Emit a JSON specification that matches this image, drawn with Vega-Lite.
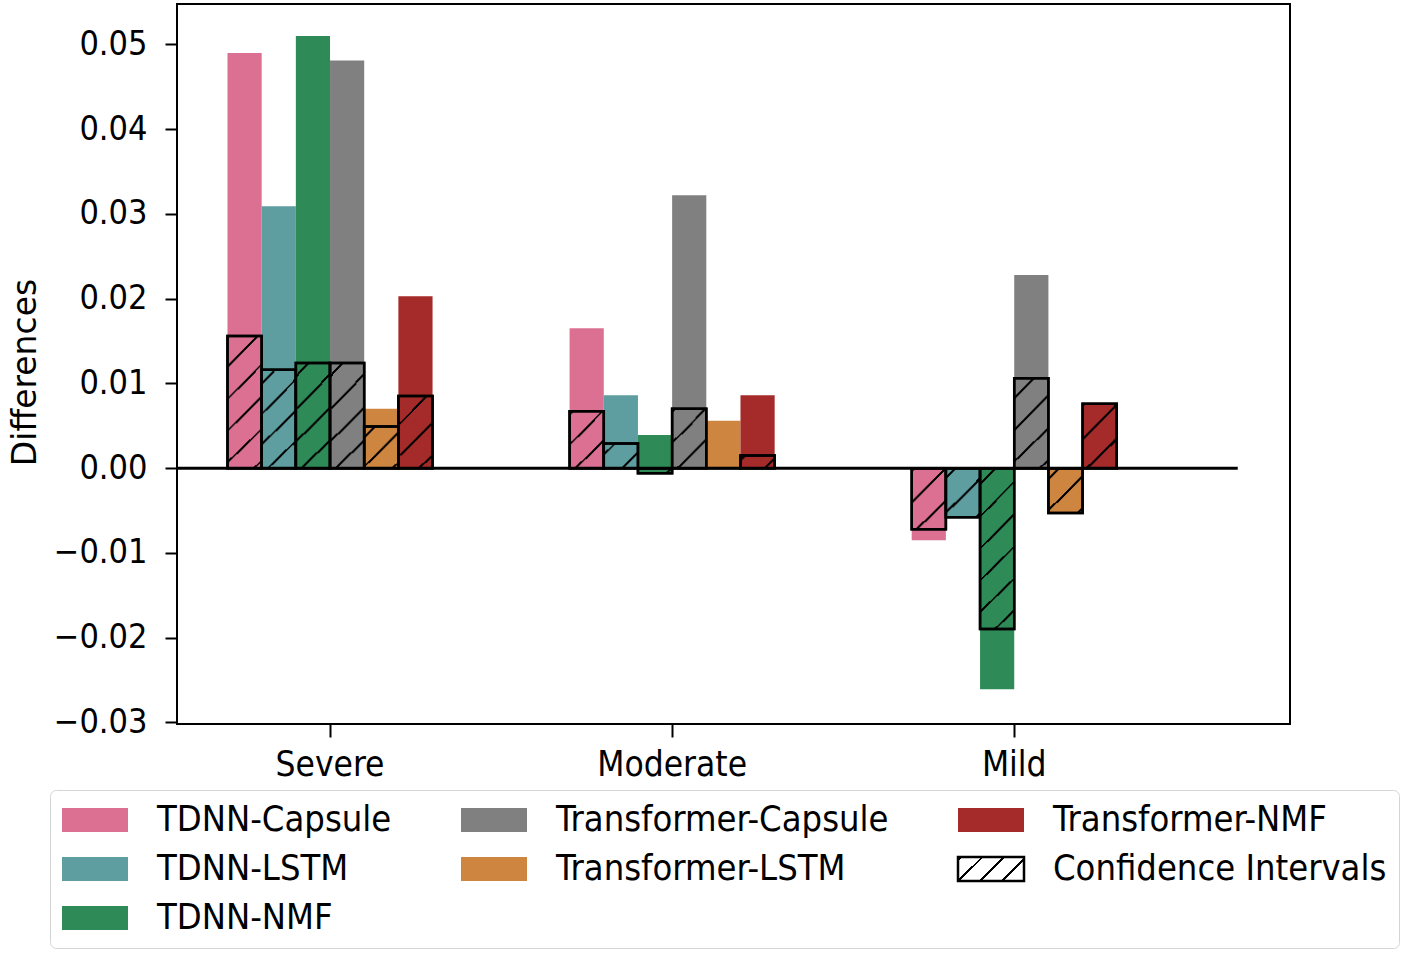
{
  "$schema": "https://vega.github.io/schema/vega-lite/v6.json",
  "width": 1113,
  "height": 720,
  "autosize": {"type": "none"},
  "padding": {"left": 177, "top": 4, "right": 128, "bottom": 232},
  "background": "white",
  "config": {
    "view": {"stroke": "black", "strokeWidth": 2},
    "font": "DejaVu Sans Condensed",
    "axis": {"grid": false}
  },
  "data": {
    "values": [
      {"severity": "Severe", "model": "TDNN-Capsule", "diff": 0.0490, "ci": 0.0156},
      {"severity": "Severe", "model": "TDNN-LSTM", "diff": 0.0309, "ci": 0.0116},
      {"severity": "Severe", "model": "TDNN-NMF", "diff": 0.0510, "ci": 0.0124},
      {"severity": "Severe", "model": "Transformer-Capsule", "diff": 0.0481, "ci": 0.0124},
      {"severity": "Severe", "model": "Transformer-LSTM", "diff": 0.0070, "ci": 0.0049},
      {"severity": "Severe", "model": "Transformer-NMF", "diff": 0.0203, "ci": 0.0085},
      {"severity": "Moderate", "model": "TDNN-Capsule", "diff": 0.0165, "ci": 0.0067},
      {"severity": "Moderate", "model": "TDNN-LSTM", "diff": 0.0086, "ci": 0.0029},
      {"severity": "Moderate", "model": "TDNN-NMF", "diff": 0.0039, "ci": -0.0006},
      {"severity": "Moderate", "model": "Transformer-Capsule", "diff": 0.0322, "ci": 0.0070},
      {"severity": "Moderate", "model": "Transformer-LSTM", "diff": 0.0056, "ci": 0},
      {"severity": "Moderate", "model": "Transformer-NMF", "diff": 0.0086, "ci": 0.0015},
      {"severity": "Mild", "model": "TDNN-Capsule", "diff": -0.0085, "ci": -0.0072},
      {"severity": "Mild", "model": "TDNN-LSTM", "diff": -0.0056, "ci": -0.0058},
      {"severity": "Mild", "model": "TDNN-NMF", "diff": -0.0261, "ci": -0.0190},
      {"severity": "Mild", "model": "Transformer-Capsule", "diff": 0.0228, "ci": 0.0106},
      {"severity": "Mild", "model": "Transformer-LSTM", "diff": -0.0045, "ci": -0.0053},
      {"severity": "Mild", "model": "Transformer-NMF", "diff": 0.0072, "ci": 0.0076}
    ]
  },
  "encoding": {
    "x": {
      "field": "severity",
      "type": "nominal",
      "title": null,
      "sort": ["Severe", "Moderate", "Mild"],
      "scale": {"paddingInner": 0.4006, "paddingOuter": 0.327, "align": 0.2257},
      "axis": {
        "title": null,
        "labelAngle": 0,
        "domain": false,
        "tickSize": 13,
        "tickWidth": 2,
        "tickColor": "black",
        "labelFont": "DejaVu Sans Condensed",
        "labelFontSize": 35,
        "labelColor": "black",
        "labelPadding": 10
      }
    }
  },
  "layer": [
    {
      "mark": {"type": "bar"},
      "encoding": {
        "xOffset": {"field": "model", "type": "nominal", "scale": {"domain": ["TDNN-Capsule", "TDNN-LSTM", "TDNN-NMF", "Transformer-Capsule", "Transformer-LSTM", "Transformer-NMF"], "paddingInner": 0, "paddingOuter": 0}},
        "y": {
          "field": "diff",
          "type": "quantitative",
          "title": "Differences",
          "scale": {"domain": [-0.0302, 0.05478], "nice": false, "zero": false},
          "axis": {
            "title": "Differences",
            "values": [-0.03, -0.02, -0.01, 0, 0.01, 0.02, 0.03, 0.04, 0.05],
            "labelExpr": "replace(format(datum.value, '.2f'), '-', '−')",
            "domain": false,
            "tickSize": 12,
            "tickWidth": 2,
            "tickColor": "black",
            "labelFont": "DejaVu Sans Condensed",
            "labelFontSize": 34,
            "labelColor": "black",
            "labelPadding": 18,
            "titleFont": "DejaVu Sans",
            "titleFontSize": 33,
            "titleFontWeight": "normal",
            "titleColor": "black",
            "titleX": -152,
            "titleY": 368,
            "titleAngle": 270,
            "titleAlign": "center",
            "titleBaseline": "middle"
          }
        },
        "color": {
          "field": "model",
          "type": "nominal",
          "scale": {
            "domain": ["TDNN-Capsule", "Transformer-Capsule", "Transformer-NMF", "TDNN-LSTM", "Transformer-LSTM", "Confidence Intervals", "TDNN-NMF"],
            "range": ["#DB7093", "#808080", "#A52A2A", "#5F9EA0", "#CD853F",
              {"expr": "{gradient: 'radial', x1: -10, y1: -10, r1: 0, x2: -10, y2: -10, r2: 15.556349, stops: [{offset: 0, color: '#ffffff'}, {offset: 0.924455, color: '#ffffff'}, {offset: 0.924455, color: '#000000'}, {offset: 0.926455, color: '#000000'}, {offset: 0.926455, color: '#ffffff'}, {offset: 0.939455, color: '#ffffff'}, {offset: 0.939455, color: '#000000'}, {offset: 0.941455, color: '#000000'}, {offset: 0.941455, color: '#ffffff'}, {offset: 0.954455, color: '#ffffff'}, {offset: 0.954455, color: '#000000'}, {offset: 0.956455, color: '#000000'}, {offset: 0.956455, color: '#ffffff'}, {offset: 0.969455, color: '#ffffff'}, {offset: 0.969455, color: '#000000'}, {offset: 0.971455, color: '#000000'}, {offset: 0.971455, color: '#ffffff'}, {offset: 0.984455, color: '#ffffff'}, {offset: 0.984455, color: '#000000'}, {offset: 0.986455, color: '#000000'}, {offset: 0.986455, color: '#ffffff'}, {offset: 1, color: '#ffffff'}]}"},
              "#2E8B57"]
          },
          "legend": {
            "orient": "none",
            "legendX": -127,
            "legendY": 786,
            "title": null,
            "direction": "horizontal",
            "columns": 3,
            "gridAlign": "each",
            "values": ["TDNN-Capsule", "Transformer-Capsule", "Transformer-NMF", "TDNN-LSTM", "Transformer-LSTM", "Confidence Intervals", "TDNN-NMF"],
            "symbolType": "M-2.75,-1L2.75,-1L2.75,1L-2.75,1Z",
            "symbolSize": 576,
            "symbolOffset": 15,
            "symbolStrokeWidth": 0,
            "symbolOpacity": 1,
            "labelFont": "DejaVu Sans Condensed",
            "labelFontSize": 36,
            "labelColor": "black",
            "labelOffset": 44,
            "labelLimit": 1000,
            "rowPadding": 13,
            "columnPadding": 64,
            "padding": 12,
            "strokeColor": "#d4d4d4",
            "cornerRadius": 6,
            "fillColor": "white",
            "encode": {
              "symbols": {
                "update": {
                  "stroke": [
                    {"test": "datum.value === 'Confidence Intervals'", "value": "black"},
                    {"value": "transparent"}
                  ],
                  "strokeWidth": {"value": 2.5},
                  "opacity": {"value": 1}
                }
              }
            }
          }
        }
      }
    },
    {
      "mark": {"type": "bar", "stroke": "black", "strokeWidth": 2.5},
      "encoding": {
        "xOffset": {"field": "model", "type": "nominal", "scale": {"domain": ["TDNN-Capsule", "TDNN-LSTM", "TDNN-NMF", "Transformer-Capsule", "Transformer-LSTM", "Transformer-NMF"], "paddingInner": 0, "paddingOuter": 0}},
        "y": {"field": "ci", "type": "quantitative", "title": "Differences"},
        "color": {"field": "model", "type": "nominal", "legend": null}
      }
    },
    {
      "transform": [{"filter": "abs(datum.ci) > 0 && abs(datum.ci) <= 0.00425"}],
      "mark": {"type": "bar", "stroke": "black", "strokeWidth": 2.5, "fill": {"gradient": "radial", "x1": -10, "y1": -10, "r1": 0, "x2": -10, "y2": -10, "r2": 15.556349, "stops": [
        {"offset": 0, "color": "rgba(0,0,0,0)"},
        {"offset": 0.928545, "color": "rgba(0,0,0,0)"}, {"offset": 0.928545, "color": "#000000"}, {"offset": 0.932364, "color": "#000000"}, {"offset": 0.932364, "color": "rgba(0,0,0,0)"},
        {"offset": 0.971364, "color": "rgba(0,0,0,0)"}, {"offset": 0.971364, "color": "#000000"}, {"offset": 0.975182, "color": "#000000"}, {"offset": 0.975182, "color": "rgba(0,0,0,0)"},
        {"offset": 1, "color": "rgba(0,0,0,0)"}
      ]}},
      "encoding": {
        "xOffset": {"field": "model", "type": "nominal", "scale": {"domain": ["TDNN-Capsule", "TDNN-LSTM", "TDNN-NMF", "Transformer-Capsule", "Transformer-LSTM", "Transformer-NMF"], "paddingInner": 0, "paddingOuter": 0}},
        "y": {"field": "ci", "type": "quantitative", "title": "Differences"}
      }
    },
    {
      "transform": [{"filter": "abs(datum.ci) > 0.00425 && abs(datum.ci) <= 0.00614"}],
      "mark": {"type": "bar", "stroke": "black", "strokeWidth": 2.5, "fill": {"gradient": "radial", "x1": -10, "y1": -10, "r1": 0, "x2": -10, "y2": -10, "r2": 15.556349, "stops": [
        {"offset": 0, "color": "rgba(0,0,0,0)"},
        {"offset": 0.923818, "color": "rgba(0,0,0,0)"}, {"offset": 0.923818, "color": "#000000"}, {"offset": 0.926727, "color": "#000000"}, {"offset": 0.926727, "color": "rgba(0,0,0,0)"},
        {"offset": 0.956091, "color": "rgba(0,0,0,0)"}, {"offset": 0.956091, "color": "#000000"}, {"offset": 0.959, "color": "#000000"}, {"offset": 0.959, "color": "rgba(0,0,0,0)"},
        {"offset": 0.988455, "color": "rgba(0,0,0,0)"}, {"offset": 0.988455, "color": "#000000"}, {"offset": 0.991364, "color": "#000000"}, {"offset": 0.991364, "color": "rgba(0,0,0,0)"},
        {"offset": 1, "color": "rgba(0,0,0,0)"}
      ]}},
      "encoding": {
        "xOffset": {"field": "model", "type": "nominal", "scale": {"domain": ["TDNN-Capsule", "TDNN-LSTM", "TDNN-NMF", "Transformer-Capsule", "Transformer-LSTM", "Transformer-NMF"], "paddingInner": 0, "paddingOuter": 0}},
        "y": {"field": "ci", "type": "quantitative", "title": "Differences"}
      }
    },
    {
      "transform": [{"filter": "abs(datum.ci) > 0.00614 && abs(datum.ci) <= 0.00802"}],
      "mark": {"type": "bar", "stroke": "black", "strokeWidth": 2.5, "fill": {"gradient": "radial", "x1": -10, "y1": -10, "r1": 0, "x2": -10, "y2": -10, "r2": 15.556349, "stops": [
        {"offset": 0, "color": "rgba(0,0,0,0)"},
        {"offset": 0.919909, "color": "rgba(0,0,0,0)"}, {"offset": 0.919909, "color": "#000000"}, {"offset": 0.922091, "color": "#000000"}, {"offset": 0.922091, "color": "rgba(0,0,0,0)"},
        {"offset": 0.943727, "color": "rgba(0,0,0,0)"}, {"offset": 0.943727, "color": "#000000"}, {"offset": 0.945909, "color": "#000000"}, {"offset": 0.945909, "color": "rgba(0,0,0,0)"},
        {"offset": 0.967636, "color": "rgba(0,0,0,0)"}, {"offset": 0.967636, "color": "#000000"}, {"offset": 0.969818, "color": "#000000"}, {"offset": 0.969818, "color": "rgba(0,0,0,0)"},
        {"offset": 0.991455, "color": "rgba(0,0,0,0)"}, {"offset": 0.991455, "color": "#000000"}, {"offset": 0.993636, "color": "#000000"}, {"offset": 0.993636, "color": "rgba(0,0,0,0)"},
        {"offset": 1, "color": "rgba(0,0,0,0)"}
      ]}},
      "encoding": {
        "xOffset": {"field": "model", "type": "nominal", "scale": {"domain": ["TDNN-Capsule", "TDNN-LSTM", "TDNN-NMF", "Transformer-Capsule", "Transformer-LSTM", "Transformer-NMF"], "paddingInner": 0, "paddingOuter": 0}},
        "y": {"field": "ci", "type": "quantitative", "title": "Differences"}
      }
    },
    {
      "transform": [{"filter": "abs(datum.ci) > 0.00802 && abs(datum.ci) <= 0.00944"}],
      "mark": {"type": "bar", "stroke": "black", "strokeWidth": 2.5, "fill": {"gradient": "radial", "x1": -10, "y1": -10, "r1": 0, "x2": -10, "y2": -10, "r2": 15.556349, "stops": [
        {"offset": 0, "color": "rgba(0,0,0,0)"},
        {"offset": 0.918273, "color": "rgba(0,0,0,0)"}, {"offset": 0.918273, "color": "#000000"}, {"offset": 0.920091, "color": "#000000"}, {"offset": 0.920091, "color": "rgba(0,0,0,0)"},
        {"offset": 0.938455, "color": "rgba(0,0,0,0)"}, {"offset": 0.938455, "color": "#000000"}, {"offset": 0.940273, "color": "#000000"}, {"offset": 0.940273, "color": "rgba(0,0,0,0)"},
        {"offset": 0.958727, "color": "rgba(0,0,0,0)"}, {"offset": 0.958727, "color": "#000000"}, {"offset": 0.960545, "color": "#000000"}, {"offset": 0.960545, "color": "rgba(0,0,0,0)"},
        {"offset": 0.978909, "color": "rgba(0,0,0,0)"}, {"offset": 0.978909, "color": "#000000"}, {"offset": 0.980727, "color": "#000000"}, {"offset": 0.980727, "color": "rgba(0,0,0,0)"},
        {"offset": 1, "color": "rgba(0,0,0,0)"}
      ]}},
      "encoding": {
        "xOffset": {"field": "model", "type": "nominal", "scale": {"domain": ["TDNN-Capsule", "TDNN-LSTM", "TDNN-NMF", "Transformer-Capsule", "Transformer-LSTM", "Transformer-NMF"], "paddingInner": 0, "paddingOuter": 0}},
        "y": {"field": "ci", "type": "quantitative", "title": "Differences"}
      }
    },
    {
      "transform": [{"filter": "abs(datum.ci) > 0.00944 && abs(datum.ci) <= 0.01121"}],
      "mark": {"type": "bar", "stroke": "black", "strokeWidth": 2.5, "fill": {"gradient": "radial", "x1": -10, "y1": -10, "r1": 0, "x2": -10, "y2": -10, "r2": 15.556349, "stops": [
        {"offset": 0, "color": "rgba(0,0,0,0)"},
        {"offset": 0.916455, "color": "rgba(0,0,0,0)"}, {"offset": 0.916455, "color": "#000000"}, {"offset": 0.918, "color": "#000000"}, {"offset": 0.918, "color": "rgba(0,0,0,0)"},
        {"offset": 0.932636, "color": "rgba(0,0,0,0)"}, {"offset": 0.932636, "color": "#000000"}, {"offset": 0.934091, "color": "#000000"}, {"offset": 0.934091, "color": "rgba(0,0,0,0)"},
        {"offset": 0.948727, "color": "rgba(0,0,0,0)"}, {"offset": 0.948727, "color": "#000000"}, {"offset": 0.950182, "color": "#000000"}, {"offset": 0.950182, "color": "rgba(0,0,0,0)"},
        {"offset": 0.964909, "color": "rgba(0,0,0,0)"}, {"offset": 0.964909, "color": "#000000"}, {"offset": 0.966364, "color": "#000000"}, {"offset": 0.966364, "color": "rgba(0,0,0,0)"},
        {"offset": 0.981091, "color": "rgba(0,0,0,0)"}, {"offset": 0.981091, "color": "#000000"}, {"offset": 0.982545, "color": "#000000"}, {"offset": 0.982545, "color": "rgba(0,0,0,0)"},
        {"offset": 0.997273, "color": "rgba(0,0,0,0)"}, {"offset": 0.997273, "color": "#000000"}, {"offset": 0.998727, "color": "#000000"}, {"offset": 0.998727, "color": "rgba(0,0,0,0)"},
        {"offset": 1, "color": "rgba(0,0,0,0)"}
      ]}},
      "encoding": {
        "xOffset": {"field": "model", "type": "nominal", "scale": {"domain": ["TDNN-Capsule", "TDNN-LSTM", "TDNN-NMF", "Transformer-Capsule", "Transformer-LSTM", "Transformer-NMF"], "paddingInner": 0, "paddingOuter": 0}},
        "y": {"field": "ci", "type": "quantitative", "title": "Differences"}
      }
    },
    {
      "transform": [{"filter": "abs(datum.ci) > 0.01121 && abs(datum.ci) <= 0.01392"}],
      "mark": {"type": "bar", "stroke": "black", "strokeWidth": 2.5, "fill": {"gradient": "radial", "x1": -10, "y1": -10, "r1": 0, "x2": -10, "y2": -10, "r2": 15.556349, "stops": [
        {"offset": 0, "color": "rgba(0,0,0,0)"},
        {"offset": 0.915545, "color": "rgba(0,0,0,0)"}, {"offset": 0.915545, "color": "#000000"}, {"offset": 0.916818, "color": "#000000"}, {"offset": 0.916818, "color": "rgba(0,0,0,0)"},
        {"offset": 0.929636, "color": "rgba(0,0,0,0)"}, {"offset": 0.929636, "color": "#000000"}, {"offset": 0.930909, "color": "#000000"}, {"offset": 0.930909, "color": "rgba(0,0,0,0)"},
        {"offset": 0.943727, "color": "rgba(0,0,0,0)"}, {"offset": 0.943727, "color": "#000000"}, {"offset": 0.945, "color": "#000000"}, {"offset": 0.945, "color": "rgba(0,0,0,0)"},
        {"offset": 0.957909, "color": "rgba(0,0,0,0)"}, {"offset": 0.957909, "color": "#000000"}, {"offset": 0.959182, "color": "#000000"}, {"offset": 0.959182, "color": "rgba(0,0,0,0)"},
        {"offset": 0.972, "color": "rgba(0,0,0,0)"}, {"offset": 0.972, "color": "#000000"}, {"offset": 0.973273, "color": "#000000"}, {"offset": 0.973273, "color": "rgba(0,0,0,0)"},
        {"offset": 0.986091, "color": "rgba(0,0,0,0)"}, {"offset": 0.986091, "color": "#000000"}, {"offset": 0.987364, "color": "#000000"}, {"offset": 0.987364, "color": "rgba(0,0,0,0)"},
        {"offset": 1, "color": "rgba(0,0,0,0)"}
      ]}},
      "encoding": {
        "xOffset": {"field": "model", "type": "nominal", "scale": {"domain": ["TDNN-Capsule", "TDNN-LSTM", "TDNN-NMF", "Transformer-Capsule", "Transformer-LSTM", "Transformer-NMF"], "paddingInner": 0, "paddingOuter": 0}},
        "y": {"field": "ci", "type": "quantitative", "title": "Differences"}
      }
    },
    {
      "transform": [{"filter": "abs(datum.ci) > 0.01392 && abs(datum.ci) <= 0.01711"}],
      "mark": {"type": "bar", "stroke": "black", "strokeWidth": 2.5, "fill": {"gradient": "radial", "x1": -10, "y1": -10, "r1": 0, "x2": -10, "y2": -10, "r2": 15.556349, "stops": [
        {"offset": 0, "color": "rgba(0,0,0,0)"},
        {"offset": 0.914182, "color": "rgba(0,0,0,0)"}, {"offset": 0.914182, "color": "#000000"}, {"offset": 0.915091, "color": "#000000"}, {"offset": 0.915091, "color": "rgba(0,0,0,0)"},
        {"offset": 0.925182, "color": "rgba(0,0,0,0)"}, {"offset": 0.925182, "color": "#000000"}, {"offset": 0.926091, "color": "#000000"}, {"offset": 0.926091, "color": "rgba(0,0,0,0)"},
        {"offset": 0.936182, "color": "rgba(0,0,0,0)"}, {"offset": 0.936182, "color": "#000000"}, {"offset": 0.937091, "color": "#000000"}, {"offset": 0.937091, "color": "rgba(0,0,0,0)"},
        {"offset": 0.947182, "color": "rgba(0,0,0,0)"}, {"offset": 0.947182, "color": "#000000"}, {"offset": 0.948091, "color": "#000000"}, {"offset": 0.948091, "color": "rgba(0,0,0,0)"},
        {"offset": 0.958182, "color": "rgba(0,0,0,0)"}, {"offset": 0.958182, "color": "#000000"}, {"offset": 0.959091, "color": "#000000"}, {"offset": 0.959091, "color": "rgba(0,0,0,0)"},
        {"offset": 0.969273, "color": "rgba(0,0,0,0)"}, {"offset": 0.969273, "color": "#000000"}, {"offset": 0.970182, "color": "#000000"}, {"offset": 0.970182, "color": "rgba(0,0,0,0)"},
        {"offset": 0.980273, "color": "rgba(0,0,0,0)"}, {"offset": 0.980273, "color": "#000000"}, {"offset": 0.981182, "color": "#000000"}, {"offset": 0.981182, "color": "rgba(0,0,0,0)"},
        {"offset": 0.991273, "color": "rgba(0,0,0,0)"}, {"offset": 0.991273, "color": "#000000"}, {"offset": 0.992182, "color": "#000000"}, {"offset": 0.992182, "color": "rgba(0,0,0,0)"},
        {"offset": 1, "color": "rgba(0,0,0,0)"}
      ]}},
      "encoding": {
        "xOffset": {"field": "model", "type": "nominal", "scale": {"domain": ["TDNN-Capsule", "TDNN-LSTM", "TDNN-NMF", "Transformer-Capsule", "Transformer-LSTM", "Transformer-NMF"], "paddingInner": 0, "paddingOuter": 0}},
        "y": {"field": "ci", "type": "quantitative", "title": "Differences"}
      }
    },
    {
      "transform": [{"filter": "abs(datum.ci) > 0.01711"}],
      "mark": {"type": "bar", "stroke": "black", "strokeWidth": 2.5, "fill": {"gradient": "radial", "x1": -10, "y1": -10, "r1": 0, "x2": -10, "y2": -10, "r2": 15.556349, "stops": [
        {"offset": 0, "color": "rgba(0,0,0,0)"},
        {"offset": 0.913182, "color": "rgba(0,0,0,0)"}, {"offset": 0.913182, "color": "#000000"}, {"offset": 0.914, "color": "#000000"}, {"offset": 0.914, "color": "rgba(0,0,0,0)"},
        {"offset": 0.922273, "color": "rgba(0,0,0,0)"}, {"offset": 0.922273, "color": "#000000"}, {"offset": 0.923, "color": "#000000"}, {"offset": 0.923, "color": "rgba(0,0,0,0)"},
        {"offset": 0.931273, "color": "rgba(0,0,0,0)"}, {"offset": 0.931273, "color": "#000000"}, {"offset": 0.932, "color": "#000000"}, {"offset": 0.932, "color": "rgba(0,0,0,0)"},
        {"offset": 0.940364, "color": "rgba(0,0,0,0)"}, {"offset": 0.940364, "color": "#000000"}, {"offset": 0.941091, "color": "#000000"}, {"offset": 0.941091, "color": "rgba(0,0,0,0)"},
        {"offset": 0.949364, "color": "rgba(0,0,0,0)"}, {"offset": 0.949364, "color": "#000000"}, {"offset": 0.950091, "color": "#000000"}, {"offset": 0.950091, "color": "rgba(0,0,0,0)"},
        {"offset": 0.958455, "color": "rgba(0,0,0,0)"}, {"offset": 0.958455, "color": "#000000"}, {"offset": 0.959182, "color": "#000000"}, {"offset": 0.959182, "color": "rgba(0,0,0,0)"},
        {"offset": 0.967455, "color": "rgba(0,0,0,0)"}, {"offset": 0.967455, "color": "#000000"}, {"offset": 0.968182, "color": "#000000"}, {"offset": 0.968182, "color": "rgba(0,0,0,0)"},
        {"offset": 0.976545, "color": "rgba(0,0,0,0)"}, {"offset": 0.976545, "color": "#000000"}, {"offset": 0.977273, "color": "#000000"}, {"offset": 0.977273, "color": "rgba(0,0,0,0)"},
        {"offset": 0.985545, "color": "rgba(0,0,0,0)"}, {"offset": 0.985545, "color": "#000000"}, {"offset": 0.986273, "color": "#000000"}, {"offset": 0.986273, "color": "rgba(0,0,0,0)"},
        {"offset": 0.994545, "color": "rgba(0,0,0,0)"}, {"offset": 0.994545, "color": "#000000"}, {"offset": 0.995273, "color": "#000000"}, {"offset": 0.995273, "color": "rgba(0,0,0,0)"},
        {"offset": 1, "color": "rgba(0,0,0,0)"}
      ]}},
      "encoding": {
        "xOffset": {"field": "model", "type": "nominal", "scale": {"domain": ["TDNN-Capsule", "TDNN-LSTM", "TDNN-NMF", "Transformer-Capsule", "Transformer-LSTM", "Transformer-NMF"], "paddingInner": 0, "paddingOuter": 0}},
        "y": {"field": "ci", "type": "quantitative", "title": "Differences"}
      }
    },
    {
      "data": {"values": [{"zero": 0}]},
      "mark": {"type": "rule", "color": "black", "strokeWidth": 3},
      "encoding": {
        "y": {"datum": 0, "type": "quantitative", "title": "Differences"},
        "x": {"datum": "Severe", "type": "nominal", "bandPosition": -0.25, "title": null},
        "x2": {"datum": "Mild", "bandPosition": 1.59}
      }
    }
  ]
}
